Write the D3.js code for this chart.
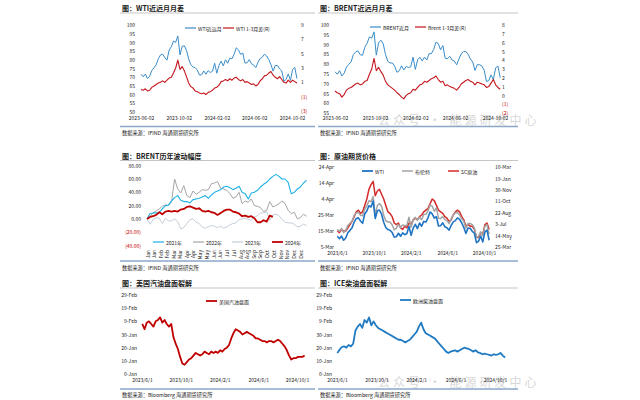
<!DOCTYPE html>
<html><head><meta charset="utf-8">
<script src="https://cdn.jsdelivr.net/npm/d3@7"></script>
<style>body{margin:0;background:#fff}svg{display:block}</style>
</head><body><svg width="640" height="400"></svg>
<script>
// ---------------- DATA ----------------
const weekStart = "2023-06-02";           // weekly observations start
const p12XTicks = ["2023-06-02","2023-10-02","2024-02-02","2024-06-02","2024-10-02"];
const p456XTicks = ["2023/6/1","2023/10/1","2024/2/1","2024/6/1","2024/10/1"];

const wtiFront = [71.7,70.2,71.8,69.2,70.6,73.9,75.4,77.1,80.6,82.8,83.2,81.3,79.8,85.6,87.5,90.8,90.0,93.7,82.8,87.7,88.1,85.5,80.5,77.2,75.9,75.5,74.1,71.2,71.4,73.6,71.7,73.8,72.7,73.4,78.0,72.3,76.8,79.2,76.5,80.0,78.0,81.0,80.6,83.2,86.9,85.7,83.1,83.9,78.1,78.3,80.1,77.7,77.0,75.5,78.5,80.7,81.5,83.2,82.2,80.1,77.2,73.5,76.8,76.7,74.8,73.6,67.7,68.7,71.9,68.2,74.4,75.6,69.2];
const wtiSpread = [0.0,-0.1,0.1,-0.2,-0.1,0.3,0.5,0.7,0.9,1.0,1.2,1.0,1.3,1.6,1.7,2.3,3.0,4.1,2.8,3.2,2.6,1.8,0.9,0.4,0.2,-0.2,-0.3,-0.5,-0.6,-0.5,-0.7,-0.4,-0.3,-0.1,0.2,0.3,0.6,1.1,1.2,1.4,1.2,1.5,1.3,1.6,1.7,1.4,1.2,1.4,1.0,1.1,0.9,0.7,0.8,0.5,0.7,1.2,1.5,1.9,2.0,2.3,2.5,2.0,1.7,1.5,1.8,1.4,1.0,0.9,1.3,1.0,1.3,1.1,0.9];
const brentFront = [76.1,74.8,76.6,73.9,75.4,78.5,79.9,81.1,84.9,86.2,86.8,84.8,84.5,88.6,90.7,93.9,93.3,96.5,84.6,90.9,92.2,90.5,84.9,81.4,80.6,80.6,78.9,75.8,76.6,79.1,77.0,78.8,78.3,78.6,83.6,77.3,82.2,83.5,81.6,83.6,82.1,85.3,85.4,87.5,91.2,90.5,87.3,89.5,83.0,82.8,84.0,82.1,81.6,79.6,82.6,85.2,86.4,86.5,85.0,82.6,81.1,76.8,79.7,79.7,79.0,76.9,71.1,71.6,74.5,72.0,78.1,79.0,73.1];
const brentSpread = [0.5,0.3,0.2,-0.2,0.1,0.6,0.8,0.9,1.1,1.3,1.4,1.2,1.3,1.6,1.7,2.4,3.0,4.2,2.8,3.2,2.7,2.3,1.6,1.2,1.0,0.8,0.6,0.3,0.1,-0.2,-0.4,0.0,0.2,0.3,0.7,0.6,0.9,1.2,1.3,1.6,1.5,1.7,1.9,2.0,2.2,1.8,1.5,1.6,1.1,1.2,1.0,0.9,0.8,0.6,0.9,1.3,1.5,1.7,1.8,1.6,1.5,1.2,1.5,1.4,1.3,1.2,0.9,1.0,1.4,1.8,1.2,0.9,0.7];
const scCrude = [75,74,76,75,75,77,79,81,84,87,88,86,87,91,95,101,104,106,97,100,101,98,95,91,87,86,84,80,79,80,77,76,78,77,80,79,82,83,82,84,85,87,88,89,92,95,94,91,88,87,86,84,83,81,82,85,87,88,87,84,82,78,79,78,78,76,71,71,74,73,79,80,76];
const gasCrack = [38,34,39,40,38,36,40,41,43,39,41,38,36,38,28,23,19,13,8,7,9,11,12,14,16,15,14,15,17,16,15,17,16,17,16,18,17,19,20,22,27,31,34,33,32,30,31,32,31,30,29,27,27,26,25,25,24,25,25,24,25,26,25,23,21,18,14,11,12,12,13,13,13,14];
const dieselCrack = [16,18.5,20.5,21,20,22,21,23,33,36,38,35,41,39,43,37,40,37,35,34,33,32,31,30,29,28,27,26,26,25,24,25,26,28,30,32,36,39,34,31,30,29,28,27,25,23,21,19,17,16,17,17.5,18,17,18,19,20,19.5,19,18,17,18,16.5,16,15,15.5,15,14.5,14,15,14.5,15,16,14,12.5];

// BRENT yearly change (%), weekly from 1 Jan
const brent2021 = [0,8,9,9,10,15,20,21,27,32,35,28,26,26,24,29,30,31,33,35,31,36,40,42,44,48,49,47,44,46,49,40,38,30,39,40,43,48,52,55,60,64,67,64,60,60,55,38,40,45,48,54,58];
const brent2022 = [0,4,9,12,15,19,21,20,26,60,45,39,50,35,32,42,37,40,44,43,44,53,54,56,46,45,43,38,31,33,40,23,27,25,30,20,19,17,11,13,26,18,20,23,27,23,13,8,10,0,2,7,4];
const brent2023 = [0,-8,-1,2,1,-7,1,-3,-3,0,-4,-15,-13,-7,-1,0,-5,-7,-12,-14,-12,-10,-11,-13,-11,-14,-12,-9,-7,-6,-1,0,1,-1,-2,3,5,9,9,11,-2,6,7,5,-1,-5,-6,-6,-8,-12,-11,-8,-10];
const brent2024 = [0,3,4,6,10,7,11,12,11,12,11,14,15,18,19,17,15,16,12,11,12,10,9,6,9,12,14,14,11,10,8,4,5,3,4,1,-5,-5,-2,-4,5,3];
const p3MonthLabels = ["Jan","Jan","Feb","Feb","Mar","Mar","Apr","Apr","May","May","Jun","Jun","Jul","Jul","Aug","Aug","Sep","Sep","Oct","Oct","Nov","Nov","Dec","Dec"];
const p3LabelDays = [1,16,32,46,60,75,91,105,121,136,152,166,182,197,213,228,244,258,274,289,305,319,335,350];

const p4LeftLabels = ["5-Mar","15-Mar","25-Mar","4-Apr","14-Apr","24-Apr"];
const p4RightLabels = ["25-Mar","14-May","3-Jul","22-Aug","11-Oct","30-Nov","19-Jan","10-Mar"];
const p56Labels = ["0-Jan","10-Jan","20-Jan","30-Jan","9-Feb","19-Feb","29-Feb"];

// ---------------- DRAWING ----------------
const svg = d3.select("svg");
const CJK = '"Noto Sans CJK SC","Noto Sans",sans-serif';
const parseDash = d3.timeParse("%Y-%m-%d");
const parseSlash = d3.timeParse("%Y/%m/%d");
const wk = i => d3.timeDay.offset(parseDash(weekStart), 7 * i);
const RED = "#c4161c", BLUE = "#3a8cc9", NEG = "#c00000";

function txt(x, y, s, size, o = {}) {
  return svg.append("text").attr("x", x).attr("y", y).attr("font-size", size)
    .attr("font-family", CJK).attr("fill", o.fill || "#1a1a1a")
    .attr("font-weight", o.weight || "normal").attr("text-anchor", o.anchor || "start")
    .attr("dominant-baseline", "central").text(s);
}
function hline(x1, x2, y, c, w) {
  svg.append("line").attr("x1", x1).attr("x2", x2).attr("y1", y).attr("y2", y)
    .attr("stroke", c).attr("stroke-width", w);
}
function frame(x0, x1, titleY, ulY, sepY, srcY, title, src) {
  txt(x0 + 2, titleY, title, 7, { weight: "bold" });
  hline(x0, x1, ulY, "#a0a0a0", 0.6);
  hline(x0, x1, sepY, "#8aa6c8", 1.4);
  txt(x0 + 2, srcY, src, 5.2);
}
function axis(gen, scale, tx, ty, ticks, fmt, pad, colorFn) {
  const g = svg.append("g").attr("transform", `translate(${tx},${ty})`)
    .call(gen(scale).tickValues(ticks).tickFormat(fmt).tickSize(0).tickPadding(pad));
  g.select(".domain").remove();
  g.attr("font-size", 5).attr("font-family", CJK);
  g.selectAll("text").attr("fill", d => colorFn ? colorFn(d) : "#1a1a1a");
  return g;
}
function series(data, x, y, color, w, xf) {
  svg.append("path").datum(data)
    .attr("d", d3.line().x((d, i) => x(xf ? xf(i) : wk(i))).y(d => y(d)))
    .attr("fill", "none").attr("stroke", color).attr("stroke-width", w)
    .attr("stroke-linejoin", "round");
}
function legend(x, y, color, w, label) {
  svg.append("line").attr("x1", x).attr("x2", x + 11).attr("y1", y).attr("y2", y)
    .attr("stroke", color).attr("stroke-width", w);
  txt(x + 13, y, label, 5);
}
const paren = d => d < 0 ? `(${-d})` : `${d}`;
const negCol = d => d < 0 ? NEG : "#1a1a1a";

// frames
frame(120, 315, 8, 13, 126.5, 132, "图：WTI近远月月差", "数据来源：IFIND   海通期货研究所");
frame(318, 518, 8, 13, 126.5, 132, "图：BRENT近远月月差", "数据来源：IFIND   海通期货研究所");
frame(120, 315, 156, 160.5, 261, 267, "图：BRENT历年波动幅度", "数据来源：IFIND   海通期货研究所");
frame(318, 518, 156, 160.5, 261, 267, "图：原油期货价格", "数据来源：IFIND   海通期货研究所");
frame(120, 315, 283, 288, 389, 394.5, "图：美国汽油盘面裂解", "数据来源：Bloomberg   海通期货研究所");
frame(318, 518, 283, 288, 389, 394.5, "图：ICE柴油盘面裂解", "数据来源：Bloomberg   海通期货研究所");

// watermark (behind the marks)
txt(378, 119, "公众号 · 能源研发中心", 12, { fill: "#cccccc" }).attr("letter-spacing", 3).attr("opacity", 0.75);
txt(378, 381, "公众号 · 能源研发中心", 12, { fill: "#cccccc" }).attr("letter-spacing", 3).attr("opacity", 0.75);

// ---- Panel 1: WTI ----
{
  const x = d3.scaleTime().domain([parseDash(p12XTicks[0]), parseDash(p12XTicks[4])]).range([141, 292]);
  const yL = d3.scaleLinear().domain([50, 100]).range([112, 25]);
  const yR = d3.scaleLinear().domain([-3, 9]).range([111, 25]);
  axis(d3.axisLeft, yL, 141, 0, d3.range(50, 101, 5), d => d, 6);
  axis(d3.axisRight, yR, 301, 0, [-3, -1, 1, 3, 5, 7, 9], paren, 0, negCol);
  axis(d3.axisBottom, x, 0, 114, p12XTicks.map(parseDash), d3.timeFormat("%Y-%m-%d"), 2);
  series(wtiFront, x, yL, BLUE, 1);
  series(wtiSpread, x, yR, RED, 1.1);
  legend(185, 28, BLUE, 1.2, "WTI近远月");
  legend(223, 28, RED, 1.2, "WTI 1-3月差(R)");
}
// ---- Panel 2: BRENT ----
{
  const x = d3.scaleTime().domain([parseDash(p12XTicks[0]), parseDash(p12XTicks[4])]).range([335, 495]);
  const yL = d3.scaleLinear().domain([55, 100]).range([113, 25]);
  const yR = d3.scaleLinear().domain([-2, 8]).range([113, 25]);
  axis(d3.axisLeft, yL, 335, 0, d3.range(55, 101, 5), d => d, 6);
  axis(d3.axisRight, yR, 502, 0, d3.range(-2, 9, 1), paren, 0, negCol);
  axis(d3.axisBottom, x, 0, 114, p12XTicks.map(parseDash), d3.timeFormat("%Y-%m-%d"), 2);
  series(brentFront, x, yL, BLUE, 1);
  series(brentSpread, x, yR, RED, 1.1);
  legend(370, 27, BLUE, 1.2, "BRENT近月");
  legend(415, 27, RED, 1.2, "Brent 1-3月差(R)");
}
// ---- Panel 3: BRENT yearly ----
{
  const x = d3.scaleLinear().domain([0, 365]).range([147, 307]);
  const y = d3.scaleLinear().domain([-40, 80]).range([245.5, 165.7]);
  axis(d3.axisLeft, y, 147, 0, d3.range(-40, 81, 20),
    d => d < 0 ? `(${(-d).toFixed(2)})` : d.toFixed(2), 6, negCol);
  const gx = axis(d3.axisBottom, x, 0, 249, p3LabelDays, (d, i) => p3MonthLabels[i], 0);
  gx.selectAll("text").attr("transform", "rotate(-90)").attr("text-anchor", "end")
    .attr("x", -1).attr("y", 0).attr("dy", "0.35em");
  const dayOf = i => 7 * i;
  series(brent2023, x, y, "#c5ced8", 1, dayOf);
  series(brent2022, x, y, "#a5a5a5", 1, dayOf);
  series(brent2021, x, y, "#1fb1e6", 1.1, dayOf);
  series(brent2024, x, y, "#c00000", 1.8, dayOf);
  legend(153, 242, "#1fb1e6", 1.2, "2021年");
  legend(193, 242, "#a5a5a5", 1.2, "2022年");
  legend(232, 242, "#c5ced8", 1.2, "2023年");
  legend(272, 242, "#c00000", 1.8, "2024年");
}
// ---- Panel 4: futures prices ----
{
  const x = d3.scaleTime().domain([parseSlash(p456XTicks[0]), parseSlash(p456XTicks[4])]).range([337, 484]);
  const yL = d3.scaleLinear().domain([65, 115]).range([247, 167]);
  const yR = d3.scaleLinear().domain([85, 435]).range([247, 167]);
  axis(d3.axisLeft, yL, 337, 0, d3.range(65, 116, 10), (d, i) => p4LeftLabels[i], 3);
  axis(d3.axisRight, yR, 495, 0, d3.range(85, 436, 50), (d, i) => p4RightLabels[i], 0);
  axis(d3.axisBottom, x, 0, 250, p456XTicks.map(parseSlash), (d, i) => p456XTicks[i], 1);
  series(scCrude, x, yL, "#d42a2a", 1.5);
  series(brentFront, x, yL, "#a3a3a3", 1.5);
  series(wtiFront, x, yL, "#1f74c4", 1.6);
  legend(362, 171, "#1f74c4", 1.8, "WTI");
  legend(402, 171, "#a3a3a3", 1.5, "布伦特");
  legend(448, 171, "#d42a2a", 1.5, "SC原油");
}
// ---- Panel 5: US gasoline crack ----
{
  const x = d3.scaleTime().domain([parseSlash(p456XTicks[0]), parseSlash(p456XTicks[4])]).range([142, 297]);
  const y = d3.scaleLinear().domain([0, 60]).range([374, 295]);
  axis(d3.axisLeft, y, 142, 0, d3.range(0, 61, 10), (d, i) => p56Labels[i], 5);
  axis(d3.axisBottom, x, 0, 377, p456XTicks.map(parseSlash), (d, i) => p456XTicks[i], 1);
  series(gasCrack, x, y, "#c00000", 1.8);
  legend(206, 301, "#c00000", 1.8, "美国汽油盘面");
}
// ---- Panel 6: ICE diesel crack ----
{
  const x = d3.scaleTime().domain([parseSlash(p456XTicks[0]), parseSlash(p456XTicks[4])]).range([337, 495]);
  const y = d3.scaleLinear().domain([0, 60]).range([374, 295]);
  axis(d3.axisLeft, y, 337, 0, d3.range(0, 61, 10), (d, i) => p56Labels[i], 5);
  axis(d3.axisBottom, x, 0, 377, p456XTicks.map(parseSlash), (d, i) => p456XTicks[i], 1);
  series(dieselCrack, x, y, "#1f7ac2", 1.8);
  legend(400, 300, "#1f7ac2", 1.8, "欧洲柴油盘面");
}
</script></body></html>
